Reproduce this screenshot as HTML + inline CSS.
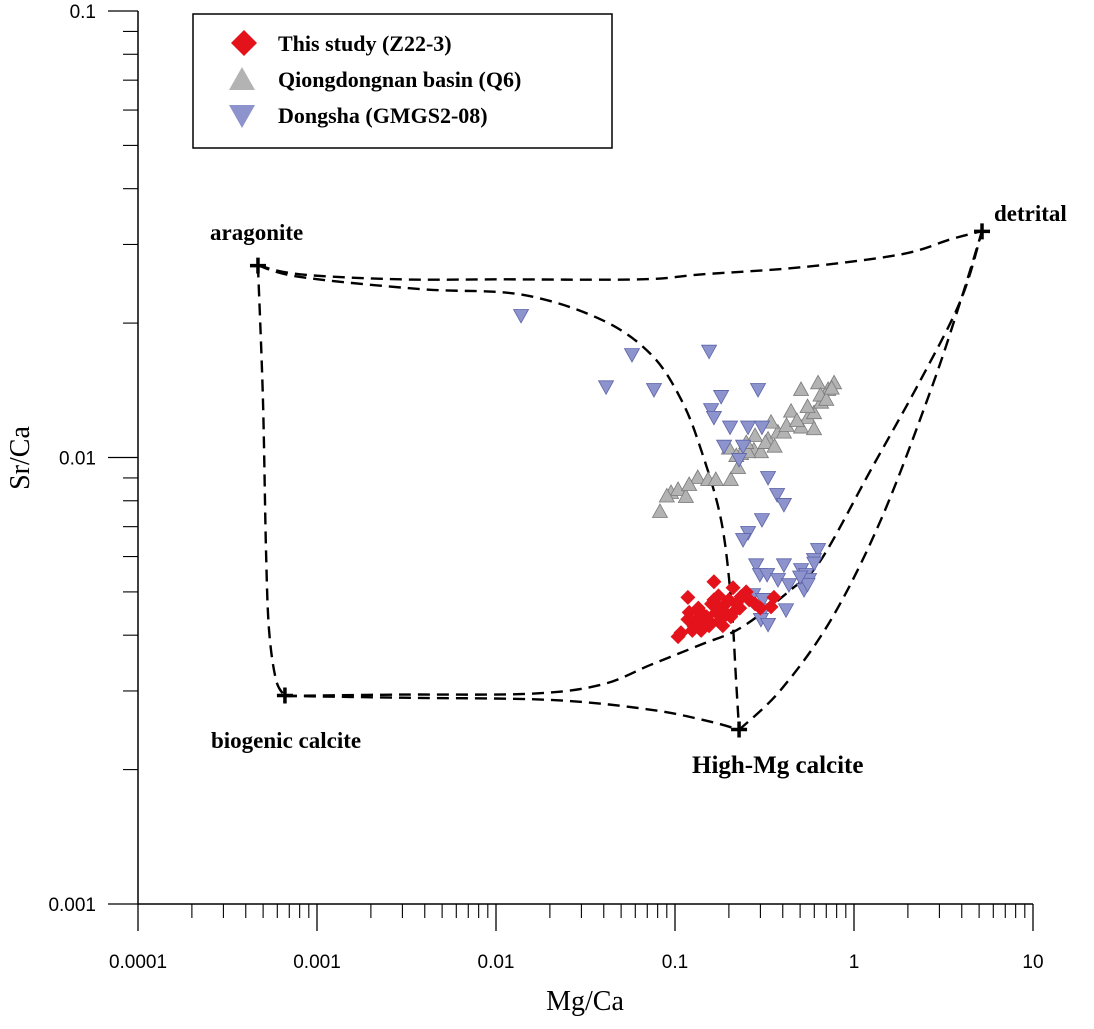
<!DOCTYPE html>
<html><head><meta charset="utf-8"><style>
html,body{margin:0;padding:0;background:#fff;}
svg{display:block;}
.tk{font-family:"Liberation Sans",sans-serif;font-size:19px;fill:#000;}
.lb{font-family:"Liberation Serif",serif;font-weight:bold;fill:#000;}
</style></head><body>
<svg id="chart" width="1094" height="1029" viewBox="0 0 1094 1029"></svg>
<script>
const xTickLabels = ["0.0001","0.001","0.01","0.1","1","10"];
const yTickLabels = ["0.001","0.01","0.1"];
const redMgCa = [0.165,0.118,0.211,0.357,0.108,0.140,0.174,0.195,0.234,0.159,0.128,0.181,0.211,0.344,0.118,0.104,0.15,0.16,0.19,0.22,0.25,0.13,0.17,0.2,0.14,0.12,0.23,0.26,0.3,0.155,0.185,0.135,0.145,0.175,0.205,0.125,0.165,0.24,0.28];
const redSrCa = [0.00527,0.00486,0.00511,0.00486,0.00405,0.00449,0.00463,0.00473,0.00488,0.00426,0.00418,0.00434,0.00449,0.00463,0.00434,0.00397,0.0044,0.0047,0.0045,0.0047,0.0050,0.0043,0.0045,0.0048,0.0041,0.0045,0.0046,0.0048,0.0046,0.0042,0.0042,0.0046,0.0043,0.0049,0.0044,0.0041,0.0048,0.0049,0.0047];
const grayMgCa = [0.0824,0.0950,0.104,0.115,0.134,0.153,0.169,0.205,0.225,0.234,0.276,0.302,0.331,0.376,0.344,0.445,0.506,0.553,0.598,0.655,0.717,0.774,0.630,0.506,0.406,0.256,0.598,0.09,0.12,0.2,0.25,0.28,0.32,0.42,0.48,0.55,0.65,0.7,0.75,0.36,0.22];
const graySrCa = [0.00757,0.00835,0.00848,0.00818,0.00902,0.00893,0.00893,0.00893,0.00950,0.0102,0.0104,0.0103,0.0110,0.0114,0.0120,0.0127,0.0117,0.0123,0.0126,0.0133,0.0142,0.0147,0.0147,0.0142,0.0114,0.0103,0.0116,0.0082,0.0087,0.0105,0.0108,0.0112,0.0108,0.0118,0.0121,0.013,0.0138,0.0135,0.0143,0.0106,0.0101];
const blueMgCa = [0.0138,0.0575,0.155,0.0412,0.0763,0.291,0.181,0.159,0.165,0.203,0.256,0.306,0.188,0.240,0.228,0.331,0.372,0.406,0.306,0.256,0.240,0.284,0.406,0.298,0.327,0.376,0.433,0.506,0.540,0.526,0.630,0.598,0.561,0.273,0.310,0.314,0.302,0.331,0.417,0.6,0.55,0.5];
const blueSrCa = [0.0208,0.0170,0.0173,0.0144,0.0142,0.0142,0.0137,0.0128,0.0123,0.0117,0.0117,0.0117,0.0106,0.0106,0.0099,0.00902,0.00826,0.00785,0.00726,0.00679,0.00655,0.00575,0.00575,0.00547,0.00547,0.00533,0.00519,0.00561,0.00547,0.00506,0.00622,0.00591,0.00533,0.00493,0.00481,0.00456,0.00434,0.00423,0.00456,0.0058,0.0052,0.0054];
const endNames = ["aragonite","biogenic calcite","High-Mg calcite","detrital"];
const endMgCa = [0.000468,0.000662,0.228,5.19];
const endSrCa = [0.0269,0.00293,0.00246,0.0321];
// mixing curves in log10 units
const curveAD_logX = [-3.330,-3.089,-2.531,-1.972,-1.190,-0.855,-0.296,0.263,0.542,0.715];
const curveAD_logY = [-1.570,-1.590,-1.601,-1.601,-1.601,-1.590,-1.574,-1.545,-1.511,-1.493];
const curveAH_logX = [-3.330,-3.089,-2.419,-1.860,-1.413,-1.134,-0.966,-0.855,-0.743,-0.687,-0.659,-0.642];
const curveAH_logY = [-1.570,-1.596,-1.623,-1.635,-1.691,-1.769,-1.870,-1.982,-2.139,-2.318,-2.498,-2.610];
const curveAB_logX = [-3.330,-3.302,-3.285,-3.268,-3.229,-3.179];
const curveAB_logY = [-1.570,-1.870,-2.206,-2.386,-2.498,-2.534];
const curveBD_logX = [-3.179,-2.531,-1.804,-1.413,-1.134,-0.855,-0.631,-0.352,-0.184,0.095,0.374,0.598,0.715];
const curveBD_logY = [-2.534,-2.531,-2.529,-2.509,-2.464,-2.419,-2.381,-2.296,-2.229,-2.027,-1.825,-1.646,-1.493];
const curveBH_logX = [-3.179,-2.531,-1.693,-1.134,-0.799,-0.642];
const curveBH_logY = [-2.534,-2.538,-2.543,-2.565,-2.592,-2.610];
const curveHD_logX = [-0.642,-0.408,-0.128,0.151,0.430,0.598,0.715];
const curveHD_logY = [-2.610,-2.520,-2.363,-2.139,-1.848,-1.646,-1.493];

const NS="http://www.w3.org/2000/svg";
const svg=document.getElementById('chart');
const X0=138, XD=179, Y0=11, YD=446.5;
function xl(l){return X0+(l+4)*XD;}
function yl(l){return Y0+(-1-l)*YD;}
function xs(v){return xl(Math.log10(v));}
function ys(v){return yl(Math.log10(v));}
function mk(tag,attrs,parent){const e=document.createElementNS(NS,tag);for(const k in attrs)e.setAttribute(k,attrs[k]);(parent||svg).appendChild(e);return e;}

let ax=mk('g',{});


let e=mk('line',{x1:X0,y1:Y0,x2:X0,y2:yl(-3),stroke:'#000','stroke-width':1.5},ax);


e=mk('line',{x1:X0,y1:yl(-3),x2:xl(1),y2:yl(-3),stroke:'#000','stroke-width':1.5},ax);


for(let d=-4;d<=1;d++){
  mk('line',{x1:xl(d),y1:yl(-3),x2:xl(d),y2:yl(-3)+27,stroke:'#000','stroke-width':1.3},ax);
  if(d<1)for(let m=2;m<=9;m++){const x=xl(d+Math.log10(m));mk('line',{x1:x,y1:yl(-3),x2:x,y2:yl(-3)+14,stroke:'#000','stroke-width':1.1},ax);}
}
xTickLabels.forEach((t,i)=>{const tx=mk('text',{x:xl(-4+i),y:968,'text-anchor':'middle',class:'tk'},ax);tx.textContent=t;

});
for(let d=-3;d<=-1;d++){
  mk('line',{x1:X0-30,y1:yl(d),x2:X0,y2:yl(d),stroke:'#000','stroke-width':1.3},ax);
  if(d<-1)for(let m=2;m<=9;m++){const y=yl(d+Math.log10(m));mk('line',{x1:X0-15,y1:y,x2:X0,y2:y,stroke:'#000','stroke-width':1.1},ax);}
}
yTickLabels.forEach((t,i)=>{const tx=mk('text',{x:96,y:yl(-3+i)+7,'text-anchor':'end',class:'tk'},ax);tx.textContent=t;

});
let t=mk('text',{x:585,y:1010,'text-anchor':'middle','font-family':'Liberation Serif, serif','font-size':28},ax);t.textContent='Mg/Ca';


t=mk('text',{x:0,y:0,'text-anchor':'middle','font-family':'Liberation Serif, serif','font-size':28,transform:'translate(29,458) rotate(-90)'},ax);t.textContent='Sr/Ca';



const curves=[[curveAD_logX,curveAD_logY],[curveAH_logX,curveAH_logY],[curveAB_logX,curveAB_logY],[curveBD_logX,curveBD_logY],[curveBH_logX,curveBH_logY],[curveHD_logX,curveHD_logY]];
function smooth(pts){let d='M'+pts[0][0]+','+pts[0][1];for(let i=0;i<pts.length-1;i++){const p0=pts[Math.max(0,i-1)],p1=pts[i],p2=pts[i+1],p3=pts[Math.min(pts.length-1,i+2)];
d+=' C'+(p1[0]+(p2[0]-p0[0])/6)+','+(p1[1]+(p2[1]-p0[1])/6)+' '+(p2[0]-(p3[0]-p1[0])/6)+','+(p2[1]-(p3[1]-p1[1])/6)+' '+p2[0]+','+p2[1];}return d;}
curves.forEach(c=>{const pts=c[0].map((v,i)=>[xl(v),yl(c[1][i])]);
const p=mk('path',{d:smooth(pts),fill:'none',stroke:'#000','stroke-width':2.4,'stroke-dasharray':'12,7'});

});

function tri(x,y,up){const s=7.5;return up?`${x},${y-s} ${x-s},${y+s*0.8} ${x+s},${y+s*0.8}`:`${x},${y+s} ${x-s},${y-s*0.8} ${x+s},${y-s*0.8}`;}
grayMgCa.forEach((v,i)=>{const p=mk('polygon',{points:tri(xs(v),ys(graySrCa[i]),true),fill:'#b3b3b3',stroke:'#7a7a7a','stroke-width':0.8});

});
blueMgCa.forEach((v,i)=>{const p=mk('polygon',{points:tri(xs(v),ys(blueSrCa[i]),false),fill:'#8d93cc',stroke:'#5d64a8','stroke-width':0.8});

});
redMgCa.forEach((v,i)=>{const x=xs(v),y=ys(redSrCa[i]),s=7.5;const p=mk('polygon',{points:`${x},${y-s} ${x+s},${y} ${x},${y+s} ${x-s},${y}`,fill:'#e3121b'});

});

const labPos=[[210,240,'start',23],[211,748,'start',23],[692,773,'start',25],[994,221,'start',23]];
endMgCa.forEach((v,i)=>{const x=xs(v),y=ys(endSrCa[i]);
const g=mk('path',{d:`M${x-8},${y}H${x+8}M${x},${y-8}V${y+8}`,stroke:'#000','stroke-width':3.5});


const tx=mk('text',{x:labPos[i][0],y:labPos[i][1],'text-anchor':labPos[i][2],class:'lb','font-size':labPos[i][3]});tx.textContent=endNames[i];

});

const lg=mk('g',{});


mk('rect',{x:193,y:14,width:419,height:134,fill:'#fff',stroke:'#000','stroke-width':1.5},lg);
const legNames=["This study (Z22-3)","Qiongdongnan basin (Q6)","Dongsha (GMGS2-08)"];
legNames.forEach((n,i)=>{const cy=43+36*i;let m;
if(i==0)m=mk('polygon',{points:`244,${cy-13} 257,${cy} 244,${cy+13} 231,${cy}`,fill:'#e3121b'},lg);
else if(i==1)m=mk('polygon',{points:`242,${cy-12} 229,${cy+11} 255,${cy+11}`,fill:'#b3b3b3'},lg);
else m=mk('polygon',{points:`242,${cy+13} 229,${cy-10} 255,${cy-10}`,fill:'#8d93cc'},lg);


const tx=mk('text',{x:278,y:cy+8,class:'lb','font-size':22},lg);tx.textContent=n;

});
</script>
</body></html>
